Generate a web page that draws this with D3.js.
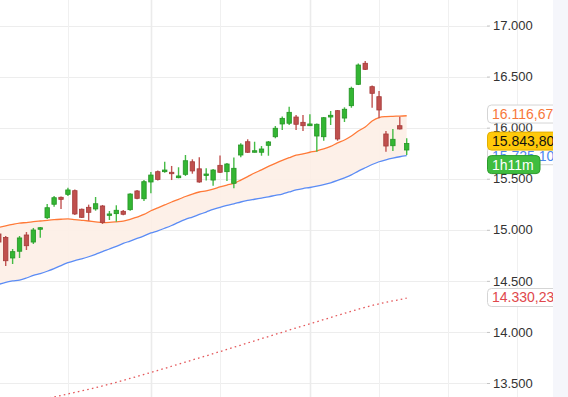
<!DOCTYPE html>
<html><head><meta charset="utf-8">
<script src="https://cdn.jsdelivr.net/npm/d3@7"></script>
<style>html,body{margin:0;padding:0;background:#fff;overflow:hidden}svg{display:block}</style>
</head><body><svg id="c" width="568" height="397"></svg>
<script>
// ---- data ----
const opens  = [14959,14925,14724,14790,14949,14880,15005,15118,15250,15318,15347,15383,15201,15220,15204,15233,15148,15158,15181,15197,15380,15304,15468,15569,15569,15563,15510,15543,15666,15597,15533,15487,15631,15569,15455,15732,15862,15759,15759,15827,15911,16036,16043,16104,16052,16019,15918,15911,16104,16166,16094,16215,16424,16630,16401,16303,15938,15823,16019,15781];
const highs  = [14978,14939,14812,14939,14978,15018,15027,15252,15331,15326,15412,15394,15208,15246,15321,15243,15184,15240,15194,15357,15390,15487,15566,15580,15667,15625,15612,15732,15690,15710,15602,15595,15727,15654,15708,15847,15886,15862,15820,15869,16016,16109,16205,16124,16124,16131,16041,16104,16163,16173,16199,16401,16628,16652,16413,16359,15967,15987,16107,15896];
const lows   = [14841,14645,14665,14724,14802,14861,14923,15106,15226,15204,15331,15145,15115,15089,15187,15057,15096,15079,15142,15187,15298,15282,15357,15483,15559,15487,15504,15527,15549,15461,15483,15432,15556,15478,15406,15710,15752,15757,15725,15725,15896,15977,16026,15977,15967,16016,15765,15872,16026,15872,16055,16195,16417,16564,16195,16091,15765,15771,15982,15732];
const closes = [14880,14697,14786,14920,14844,14998,15020,15216,15314,15298,15390,15155,15122,15171,15255,15073,15155,15191,15152,15350,15308,15471,15536,15492,15585,15549,15527,15676,15576,15468,15546,15585,15563,15644,15602,15830,15759,15774,15791,15860,15994,16091,16150,16033,16019,16036,16033,16097,16121,15889,16180,16385,16613,16571,16336,16173,15820,15886,15987,15843.80];
const maFast = [15024,15039,15053,15065,15071,15079,15086,15093,15099,15103,15106,15100,15093,15086,15078,15071,15073,15078,15084,15101,15125,15150,15186,15215,15243,15272,15297,15326,15350,15370,15382,15399,15419,15438,15455,15487,15521,15556,15587,15620,15651,15680,15706,15730,15744,15759,15773,15791,15816,15850,15879,15918,15967,16006,16065,16099,16108,16111,16113,16116.67];
const maSlow = [14466,14486,14499,14508,14528,14553,14572,14594,14619,14650,14678,14699,14716,14736,14760,14787,14812,14838,14866,14890,14915,14941,14969,14990,15015,15042,15073,15101,15125,15150,15174,15199,15220,15238,15254,15272,15287,15299,15311,15323,15337,15350,15370,15390,15404,15414,15427,15442,15460,15483,15509,15538,15574,15607,15639,15666,15685,15701,15715,15725.10];
const maLong = [null,null,null,null,null,null,13335,13350,13364,13378,13393,13408,13423,13438,13454,13471,13489,13507,13526,13545,13564,13584,13603,13623,13643,13664,13684,13705,13725,13746,13766,13787,13808,13829,13850,13871,13892,13913,13934,13955,13976,13997,14018,14039,14059,14080,14100,14121,14141,14162,14182,14203,14222,14241,14259,14275,14290,14304,14317,14330.23];
const yTicks = [13500,14000,14500,15000,15500,16000,16500,17000];
const timeGrid = [10,22,32,45,55,65,75];
const majorGrid = [22,45];
const timerText = "1h11m";

// ---- setup ----
const W = 568, H = 397;
const svg = d3.select("#c");
const loc = d3.formatLocale({decimal:",", thousands:".", grouping:[3], currency:["",""]});
const fmt0 = loc.format(",.0f"), fmt2 = loc.format(",.2f");
const x = d3.scaleLinear().domain([0, 59]).range([-1.21, 406.7]);
const y = d3.scaleLinear().domain([13500, 17000]).range([383, 25.5]);
const idx = d3.range(closes.length);
const FONT = "'Liberation Sans', Arial, sans-serif";

svg.append("rect").attr("width", W).attr("height", H).attr("fill", "#fff");

// grid
svg.append("g").selectAll("line").data(yTicks).join("line")
  .attr("x1", 0).attr("x2", 489).attr("y1", d => Math.round(y(d)) + 0.5).attr("y2", d => Math.round(y(d)) + 0.5)
  .attr("stroke", "#ededed").attr("stroke-width", 1);
svg.append("g").selectAll("line").data(timeGrid).join("line")
  .attr("x1", d => Math.round(x(d)) + 0.5).attr("x2", d => Math.round(x(d)) + 0.5).attr("y1", 0).attr("y2", H)
  .attr("stroke", d => majorGrid.includes(d) ? "#ebebeb" : "#f0f0f0")
  .attr("stroke-width", d => majorGrid.includes(d) ? 1.6 : 1);

// band
const area = d3.area().x(i => x(i)).y0(i => y(maSlow[i])).y1(i => y(maFast[i])).curve(d3.curveMonotoneX);
svg.append("path").attr("d", area(idx)).attr("fill", "#fdeee6").attr("opacity", 0.9);

// lines
const lineOf = arr => d3.line().defined(i => arr[i] != null).x(i => x(i)).y(i => y(arr[i])).curve(d3.curveMonotoneX)(idx);
svg.append("path").attr("d", lineOf(maSlow)).attr("fill", "none").attr("stroke", "#5b8cf5").attr("stroke-width", 1.3);
svg.append("path").attr("d", lineOf(maFast)).attr("fill", "none").attr("stroke", "#ff7a38").attr("stroke-width", 1.3);
svg.append("path").attr("d", lineOf(maLong)).attr("fill", "none").attr("stroke", "#e4585b")
  .attr("stroke-width", 1.3).attr("stroke-dasharray", "1.6,3.2");

// candles
const up = i => closes[i] >= opens[i];
const cg = svg.append("g");
cg.selectAll("line").data(idx).join("line")
  .attr("x1", i => x(i)).attr("x2", i => x(i))
  .attr("y1", i => y(highs[i])).attr("y2", i => y(lows[i]))
  .attr("stroke", i => up(i) ? "#45bb45" : "#c25452").attr("stroke-width", 1.4);
cg.selectAll("rect").data(idx).join("rect")
  .attr("x", i => x(i) - 2.2).attr("width", 4.4)
  .attr("y", i => y(Math.max(opens[i], closes[i])))
  .attr("height", i => Math.max(1.4, Math.abs(y(opens[i]) - y(closes[i]))))
  .attr("fill", i => up(i) ? "#33b633" : "#c0504e")
  .attr("stroke", i => up(i) ? "#259425" : "#a53b3a").attr("stroke-width", 0.8);

// right axis
const axis = d3.axisRight(y).tickValues(yTicks).tickFormat(fmt0).tickSize(3).tickPadding(3);
const ag = svg.append("g").attr("transform", "translate(487,0)").call(axis);
ag.select(".domain").remove();
ag.selectAll(".tick line").attr("stroke", "#c4c4c4");
ag.selectAll("text").attr("fill", "#333").style("font-family", FONT).style("font-size", "13px");

// value labels
function tag(cy, text, fill, stroke, color, w) {
  const g = svg.append("g");
  g.append("rect").attr("x", 487.5).attr("y", cy - 9).attr("width", w).attr("height", 18).attr("rx", 4)
    .attr("fill", fill).attr("stroke", stroke).attr("stroke-width", 1);
  g.append("text").attr("x", 492).attr("y", cy + 5).attr("fill", color)
    .style("font-family", FONT).style("font-size", "14px").text(text);
}
const last = closes.length - 1;
tag(y(maLong[last]) - 0.7, fmt2(maLong[last]), "#fff", "#d5d5d5", "#e0474c", 90);
tag(y(maSlow[last]), fmt2(maSlow[last]), "#fff", "#d5d5d5", "#4d86ee", 90);
tag(y(maFast[last]) - 1.7, fmt2(maFast[last]), "#fff", "#d5d5d5", "#f7783a", 90);
tag(y(closes[last]) - 2.5, fmt2(closes[last]), "#ffc90a", "#e3b000", "#111", 90);
tag(y(closes[last]) + 21, timerText, "#3fbd3f", "#2c9c2c", "#fff", 52.5);

// outer page strip
svg.append("rect").attr("x", 553).attr("y", 0).attr("width", W - 553).attr("height", H).attr("fill", "#f5f6fb");
</script>
</body></html>
